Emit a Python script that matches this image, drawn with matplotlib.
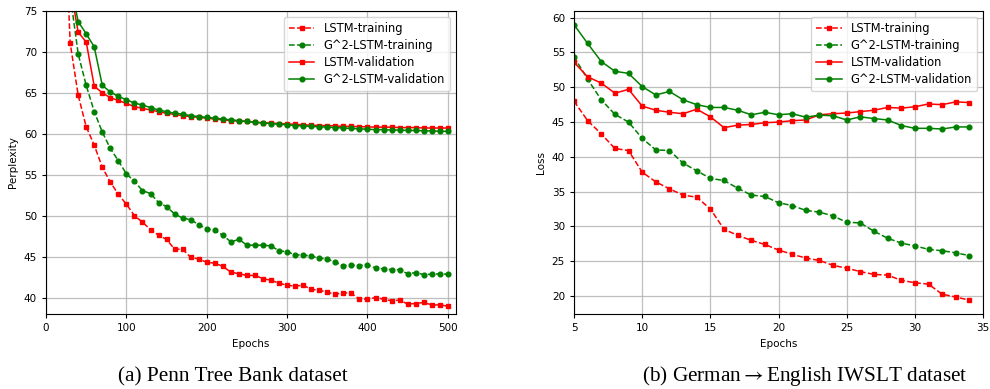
import numpy as np
import matplotlib.pyplot as plt

plt.rcParams['mathtext.fontset'] = 'stix'

# Penn Tree Bank (perplexity vs epochs)
ptb_epochs = list(range(20, 510, 10))
ptb_lstm_train = [95, 71.1, 64.7, 60.85, 58.6, 55.9, 54.1, 52.6, 51.4, 50.0, 49.2,
                  48.3, 47.6, 47.1, 45.9, 45.9, 44.9, 44.7, 44.3, 44.2, 43.8,
                  43.1, 42.9, 42.7, 42.7, 42.3, 42.1, 41.75, 41.5, 41.4, 41.5,
                  41.0, 40.9, 40.65, 40.4, 40.6, 40.5, 39.8, 39.8, 40.0, 39.8,
                  39.6, 39.7, 39.2, 39.27, 39.4, 39.1, 39.1, 38.95]
ptb_g2_train = [100, 77.0, 69.75, 65.9, 62.7, 60.2, 58.2, 56.7, 55.1, 54.2, 53.05,
                52.7, 51.6, 51.1, 50.2, 49.7, 49.5, 48.9, 48.4, 48.2, 47.6,
                46.8, 47.1, 46.4, 46.4, 46.4, 46.3, 45.7, 45.6, 45.2, 45.2,
                45.05, 44.8, 44.7, 44.3, 43.9, 43.95, 43.9, 44.0, 43.6, 43.5,
                43.4, 43.4, 42.9, 43.05, 42.8, 42.85, 42.9, 42.85]
ptb_lstm_val = [95, 78.0, 72.4, 71.2, 65.8, 65.0, 64.4, 64.06, 63.7, 63.3, 63.1,
                62.9, 62.7, 62.5, 62.35, 62.2, 62.1, 62.0, 61.9, 61.8, 61.7,
                61.6, 61.55, 61.5, 61.4, 61.35, 61.3, 61.25, 61.2, 61.15, 61.1,
                61.05, 61.0, 61.0, 60.95, 60.9, 60.9, 60.85, 60.85, 60.8, 60.8,
                60.8, 60.75, 60.75, 60.75, 60.7, 60.7, 60.7, 60.7]
ptb_g2_val = [95, 78.5, 73.7, 72.2, 70.6, 65.9, 65.1, 64.55, 64.15, 63.75, 63.5,
              63.2, 62.9, 62.7, 62.5, 62.4, 62.2, 62.1, 62.0, 61.9, 61.8,
              61.7, 61.6, 61.5, 61.4, 61.3, 61.25, 61.15, 61.1, 61.0, 60.95,
              60.9, 60.85, 60.8, 60.75, 60.7, 60.65, 60.6, 60.55, 60.5, 60.5,
              60.45, 60.45, 60.4, 60.4, 60.35, 60.35, 60.3, 60.3]

# German->English IWSLT (loss vs epochs)
iwslt_epochs = list(range(5, 35))
iwslt_lstm_train = [48.0, 45.2, 43.3, 41.2, 40.9, 37.8, 36.4, 35.4, 34.5, 34.2,
                    32.5, 29.6, 28.7, 28.0, 27.4, 26.6, 26.0, 25.45, 25.1, 24.4,
                    24.0, 23.5, 23.1, 23.0, 22.25, 21.9, 21.7, 20.25, 19.85, 19.4]
iwslt_g2_train = [54.4, 51.15, 48.2, 46.1, 45.0, 42.65, 41.0, 40.9, 39.1, 38.0,
                  36.9, 36.6, 35.5, 34.5, 34.3, 33.4, 33.0, 32.3, 32.05, 31.5,
                  30.6, 30.5, 29.3, 28.3, 27.6, 27.2, 26.7, 26.5, 26.2, 25.8]
iwslt_lstm_val = [53.6, 51.5, 50.6, 49.15, 49.7, 47.3, 46.7, 46.4, 46.2, 46.85,
                  45.75, 44.2, 44.55, 44.65, 44.9, 45.0, 45.2, 45.3, 46.05, 46.2,
                  46.3, 46.5, 46.7, 47.1, 47.0, 47.2, 47.6, 47.5, 47.9, 47.8]
iwslt_g2_val = [59.0, 56.3, 53.7, 52.3, 52.0, 50.1, 48.9, 49.4, 48.2, 47.5,
                47.1, 47.1, 46.7, 46.05, 46.4, 46.05, 46.2, 45.7, 46.0, 45.9,
                45.3, 45.75, 45.5, 45.3, 44.5, 44.1, 44.1, 44.0, 44.3, 44.3]

labels = ['LSTM-training', 'G^2-LSTM-training', 'LSTM-validation', 'G^2-LSTM-validation']

fig = plt.figure(figsize=(9.9, 3.89), dpi=100)
ax1 = fig.add_axes([0.0465, 0.193, 0.414, 0.779])
ax2 = fig.add_axes([0.5798, 0.193, 0.4132, 0.779])

def draw(ax, x, tr1, tr2, va1, va2):
    kw = dict(linewidth=1.1, markersize=3.4)
    ax.plot(x, tr1, 'r--', marker='s', label=labels[0], **kw)
    ax.plot(x, tr2, 'g--', marker='o', label=labels[1], **kw)
    ax.plot(x, va1, 'r-', marker='s', label=labels[2], **kw)
    ax.plot(x, va2, 'g-', marker='o', label=labels[3], **kw)
    ax.grid(True, color='#b0b0b0', linewidth=0.9, alpha=0.8)
    ax.tick_params(labelsize=7.5, length=3)
    ax.set_xlabel('Epochs', fontsize=7.5)
    ax.legend(loc='upper right', fontsize=8.3, framealpha=0.8,
              handlelength=2.2, borderpad=0.45, labelspacing=0.35)

draw(ax1, ptb_epochs, ptb_lstm_train, ptb_g2_train, ptb_lstm_val, ptb_g2_val)
ax1.set_xlim(0, 510)
ax1.set_ylim(38, 75)
ax1.set_ylabel('Perplexity', fontsize=7.5)

draw(ax2, iwslt_epochs, iwslt_lstm_train, iwslt_g2_train, iwslt_lstm_val, iwslt_g2_val)
ax2.set_xlim(5, 35)
ax2.set_ylabel('Loss', fontsize=7.5)

fig.text(0.2354, 0.02, '(a) Penn Tree Bank dataset', ha='center', va='baseline',
         family='Liberation Serif', fontsize=15.3)
fig.text(0.8126, 0.02, '(b) German$\\rightarrow$English IWSLT dataset', ha='center', va='baseline',
         family='Liberation Serif', fontsize=15.3)

fig.savefig('out.png', dpi=100)
